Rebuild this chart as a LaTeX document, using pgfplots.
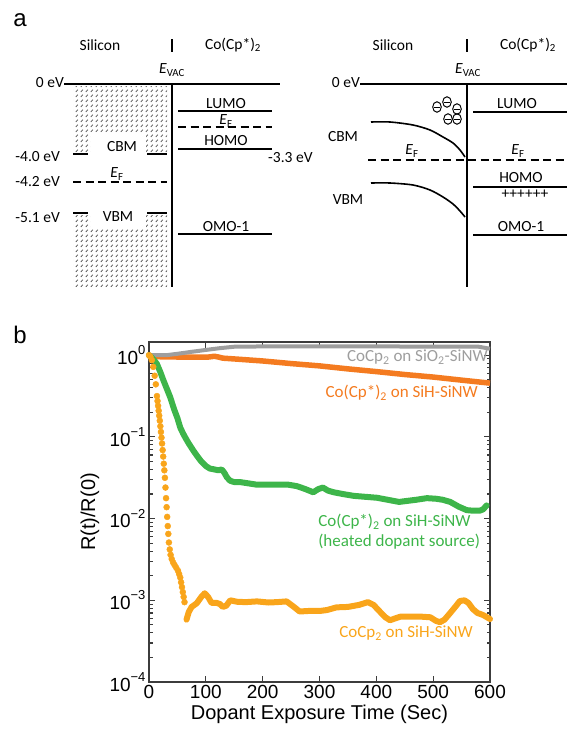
\documentclass[border=0pt]{standalone}
\usepackage{fontspec}
\setmainfont{Carlito}
\newfontfamily\arial{Liberation Sans}
\usepackage{pgfplots}
\pgfplotsset{compat=1.18}
\usetikzlibrary{patterns.meta}

\definecolor{cgray}{HTML}{9E9E9E}
\definecolor{corange}{HTML}{F47B20}
\definecolor{cgreen}{HTML}{3DB54A}
\definecolor{cyellow}{HTML}{F9A51B}
\definecolor{frame}{HTML}{3C3C3C}

\newcommand{\fs}[1]{\fontsize{#1}{#1}\selectfont}
\newcommand{\EF}{\textit{E}\textsubscript{F}}
\newcommand{\ten}[1]{10\raisebox{0.52em}{\fs{13}#1}}

\tikzdeclarepattern{
  name=dashhatch, type=uncolored,
  bottom left={(0pt,0pt)}, top right={(4.7pt,4.8pt)},
  tile size={(4.7pt,4.8pt)},
  code={\draw[line width=0.8pt] (0.9pt,1.1pt) -- (3.0pt,3.4pt);}
}

% electron: circle with a bar
\pgfdeclareplotmark{eminus}{%
  \pgfpathellipse{\pgfpointorigin}{\pgfpoint{4.3pt}{0pt}}{\pgfpoint{0pt}{5.3pt}}\pgfusepathqstroke
  \pgfpathmoveto{\pgfpoint{-2.8pt}{0pt}}\pgfpathlineto{\pgfpoint{2.8pt}{0pt}}\pgfusepathqstroke}

\pgfplotsset{
  ln/.style={black, solid, line width=1.6pt, mark=none},
  dl/.style={ln, dash pattern=on 8pt off 4.5pt},
}

\begin{document}
\begin{tikzpicture}
% ---------------- panel a: band diagrams (pixel units, y down)
\begin{axis}[at={(0pt,0pt)}, anchor=north west, scale only axis,
  width=567pt, height=300pt, xmin=0, xmax=567, ymin=0, ymax=300,
  y dir=reverse, hide axis, clip=false]
  % hatched bands (left)
  \addplot[draw=none, mark=none, pattern=dashhatch, pattern color=gray!70!black] coordinates
    {(73,86) (167,86) (167,152) (146,152) (146,132) (90,132) (90,152) (73,152)} -- cycle;
  \addplot[draw=none, mark=none, pattern=dashhatch, pattern color=gray!70!black] coordinates
    {(73,215) (90,215) (90,228) (146,228) (146,215) (167,215) (167,287) (73,287)} -- cycle;
  % left diagram
  \addplot[ln] coordinates {(64,84) (280,84)};
  \addplot[ln, line width=2pt] coordinates {(172,83) (172,287)};
  \addplot[ln, line width=1.4pt] coordinates {(172,39) (172,52)};
  \addplot[ln] coordinates {(73,154) (88,154)};
  \addplot[ln] coordinates {(147,154) (167,154)};
  \addplot[ln] coordinates {(73,213) (88,213)};
  \addplot[ln] coordinates {(147,213) (167,213)};
  \addplot[dl] coordinates {(73,182) (167,182)};
  \addplot[ln] coordinates {(178,111) (272,111)};
  \addplot[dl] coordinates {(178,127) (272,127)};
  \addplot[ln] coordinates {(178,149) (272,149)};
  \addplot[ln] coordinates {(178,234) (272,234)};
  % right diagram
  \addplot[ln] coordinates {(360,84) (567,84)};
  \addplot[ln, line width=2pt] coordinates {(467,83) (467,287)};
  \addplot[ln, line width=1.4pt] coordinates {(467,39) (467,52)};
  \addplot[ln] coordinates {(473,112) (567,112)};
  \addplot[dl] coordinates {(368,160) (567,160)};
  \addplot[ln] coordinates {(473,187) (567,187)};
  \addplot[ln] coordinates {(473,235) (567,235)};
  \addplot[ln, smooth] coordinates {(371,122) (390,122) (413,125) (430,130) (443,137) (453,143) (460,150) (465,157)};
  \addplot[ln, smooth] coordinates {(371,183) (390,183) (413,185) (430,190) (443,197) (453,204) (460,211) (465,217)};
  \addplot[black, only marks, mark=eminus, mark options={solid, black, line width=1pt}]
    coordinates {(437,107) (447,102) (457,109) (448,119) (457,119)};

  \begin{scope}[font=\fs{15.5}]
  \node at (axis cs:100,45) {Silicon};
  \node at (axis cs:233,45) {Co(Cp*)\textsubscript{2}};
  \node at (axis cs:172,70) {\textit{E}\textsubscript{VAC}};
  \node[anchor=east, inner sep=0pt] at (axis cs:64,83) {0 eV};
  \node[anchor=east, inner sep=0pt] at (axis cs:60,157) {-4.0 eV};
  \node[anchor=east, inner sep=0pt] at (axis cs:60,182) {-4.2 eV};
  \node[anchor=east, inner sep=0pt] at (axis cs:60,218) {-5.1 eV};
  \node at (axis cs:122,147) {CBM};
  \node at (axis cs:117,174) {\EF};
  \node at (axis cs:118,217) {VBM};
  \node at (axis cs:226,104) {LUMO};
  \node at (axis cs:226,121) {\EF};
  \node at (axis cs:226,141) {HOMO};
  \node[anchor=west, inner sep=0pt] at (axis cs:268,158) {-3.3 eV};
  \node at (axis cs:226,227) {OMO-1};
  \node at (axis cs:393,45) {Silicon};
  \node at (axis cs:528,45) {Co(Cp*)\textsubscript{2}};
  \node at (axis cs:468,70) {\textit{E}\textsubscript{VAC}};
  \node[anchor=east, inner sep=0pt] at (axis cs:360,83) {0 eV};
  \node at (axis cs:517,104) {LUMO};
  \node at (axis cs:343,137) {CBM};
  \node at (axis cs:412,151) {\EF};
  \node at (axis cs:518,151) {\EF};
  \node[inner sep=0pt] at (axis cs:521,178) {HOMO};
  \node[inner sep=0pt] at (axis cs:525,194) {++++++};
  \node at (axis cs:348,200) {VBM};
  \node at (axis cs:521,227) {OMO-1};
  \end{scope}
  \node[font=\arial\fs{24}] at (axis cs:20,20) {a};
  \node[font=\arial\fs{24}] at (axis cs:20,335) {b};
\end{axis}

% ---------------- panel b: resistance vs time
\begin{axis}[at={(149pt,-342pt)}, anchor=north west, scale only axis,
  width=341pt, height=340pt, xmin=0, xmax=600, ymode=log, ymin=1e-4, ymax=1.45,
  xtick={0,100,200,300,400,500,600}, xticklabels={0,100,200,300,400,500,600},
  ytick={1e-4,1e-3,1e-2,1e-1,1},
  yticklabels={\ten{−4},\ten{−3},\ten{−2},\ten{−1},\ten{0}},
  minor ytick={2e-4,3e-4,4e-4,5e-4,6e-4,7e-4,8e-4,9e-4,2e-3,3e-3,4e-3,5e-3,6e-3,7e-3,8e-3,9e-3,
    2e-2,3e-2,4e-2,5e-2,6e-2,7e-2,8e-2,9e-2,0.2,0.3,0.4,0.5,0.6,0.7,0.8,0.9},
  ticklabel style={font=\arial\fs{19}},
  axis line style={frame, line width=1.2pt}, tick style={frame, line width=1.1pt},
  major tick length=6pt, minor tick length=3.5pt,
  xlabel={Dopant Exposure Time (Sec)}, ylabel={R(t)/R(0)},
  label style={font=\arial\fs{20}},
  xlabel style={at={(axis description cs:0.5,-0.094)}, anchor=center},
  ylabel style={at={(axis description cs:-0.173,0.5)}, anchor=center},
  clip=false]
  % CoCp2 on SiH-SiNW, steep part (dots)
  \addplot[cyellow, only marks, mark=*, mark size=3pt, mark options={draw=cyellow, fill=cyellow}] coordinates {
    (0,1.0) (2.5,0.955) (5,0.87) (7.5,0.72) (10,0.56) (12,0.44) (14,0.316) (15,0.275)
    (16,0.24) (17,0.209) (18,0.182) (19,0.158) (20,0.135) (21,0.115) (22,0.098) (23,0.083)
    (24,0.069) (25,0.0575) (26,0.047) (27,0.039) (28,0.0316) (29,0.024) (30,0.0178)
    (31,0.0138) (32,0.0105) (33,0.0081) (34,0.0065) (35,0.0051) (36.5,0.0042) (38,0.0036)
    (40,0.0032) (42.5,0.0029) (45,0.0027) (48,0.0025) (51,0.0023)
    (53,0.0021) (55,0.0019) (56.5,0.00166) (58,0.00145) (59.5,0.00126) (61,0.0011) (62.5,0.00095)};
  % CoCp2 on SiH-SiNW, plateau
  \addplot[cyellow, line width=6pt, line cap=round, line join=round, mark=none] coordinates {
    (66,0.00058) (70,0.00072) (75,0.00083) (84,0.00092) (92,0.0011) (98,0.00122) (104,0.0011)
    (110,0.00093) (119,0.00093) (125,0.0009) (130,0.00083) (136,0.00086) (143,0.001) (155,0.00096)
    (170,0.00095) (190,0.00097) (210,0.00094) (225,0.00095) (242,0.00097) (255,0.00083)
    (265,0.00073) (280,0.00074) (300,0.00074) (313,0.00076) (330,0.00082) (350,0.00083)
    (370,0.00088) (385,0.00095) (395,0.00088) (406,0.00073) (416,0.00062) (424,0.00057)
    (433,0.0006) (442,0.00063) (460,0.00063) (480,0.00063) (495,0.00062) (505,0.00056)
    (512,0.00054) (520,0.00058) (530,0.0007) (540,0.00085) (547,0.00098) (555,0.001)
    (562,0.00093) (570,0.00078) (578,0.0007) (588,0.00066) (600,0.00059)};
  % Co(Cp*)2 on SiH-SiNW
  \addplot[corange, line width=5.5pt, line join=round, mark=none] coordinates {
    (0,1.0) (5,0.96) (30,0.955) (50,0.95) (70,0.95) (90,0.95) (105,0.95) (115,0.97) (122,0.95)
    (130,0.92) (160,0.89) (200,0.85) (250,0.79) (300,0.74) (350,0.68) (400,0.63) (450,0.58)
    (500,0.54) (550,0.495) (600,0.455)};
  % CoCp2 on SiO2-SiNW
  \addplot[cgray, line width=4pt, line join=round, mark=none] coordinates {
    (0,1.0) (30,1.0) (50,1.04) (75,1.1) (100,1.16) (125,1.22) (150,1.27) (200,1.28)
    (400,1.28) (580,1.27) (600,1.2)};
  % Co(Cp*)2 on SiH-SiNW, heated source
  \addplot[cgreen, line width=6pt, line join=round, line cap=round, mark=none] coordinates {
    (0,1.0) (5,0.93) (10,0.85) (14,0.78) (20,0.62) (25,0.5) (30,0.41) (37,0.31) (45,0.21)
    (50,0.17) (55,0.13) (60,0.11) (65,0.095) (70,0.083) (78,0.068) (85,0.058) (92,0.05)
    (100,0.044) (107,0.041) (115,0.040) (122,0.039) (128,0.040) (133,0.036) (137,0.032)
    (143,0.029) (150,0.028) (160,0.028) (175,0.027) (190,0.026) (210,0.026) (230,0.026)
    (245,0.026) (260,0.025) (275,0.023) (289,0.021) (298,0.023) (306,0.024) (315,0.022)
    (325,0.021) (341,0.020) (360,0.019) (380,0.0185) (401,0.018) (420,0.017) (440,0.016)
    (455,0.0165) (470,0.017) (489,0.0178) (505,0.0175) (517,0.017) (530,0.016) (545,0.014)
    (559,0.0127) (570,0.0125) (582,0.0125) (588,0.013) (594,0.0145)};

  \begin{scope}[font=\fs{17}]
  \node[cgray, anchor=east, inner sep=0pt] at (axis description cs:0.994,0.956)
    {CoCp\textsubscript{2} on SiO\textsubscript{2}-SiNW};
  \node[corange, anchor=east, inner sep=0pt] at (axis description cs:0.965,0.85)
    {Co(Cp*)\textsubscript{2} on SiH-SiNW};
  \node[cgreen, anchor=west, inner sep=0pt] at (axis description cs:0.496,0.471)
    {Co(Cp*)\textsubscript{2} on SiH-SiNW};
  \node[cgreen, anchor=west, inner sep=0pt] at (axis description cs:0.496,0.412)
    {(heated dopant source)};
  \node[cyellow, anchor=east, inner sep=0pt] at (axis description cs:0.950,0.144)
    {CoCp\textsubscript{2} on SiH-SiNW};
  \end{scope}
\end{axis}
\pgfresetboundingbox
\path[use as bounding box] (0pt,0pt) rectangle (567pt,-729pt);
\end{tikzpicture}
\end{document}
